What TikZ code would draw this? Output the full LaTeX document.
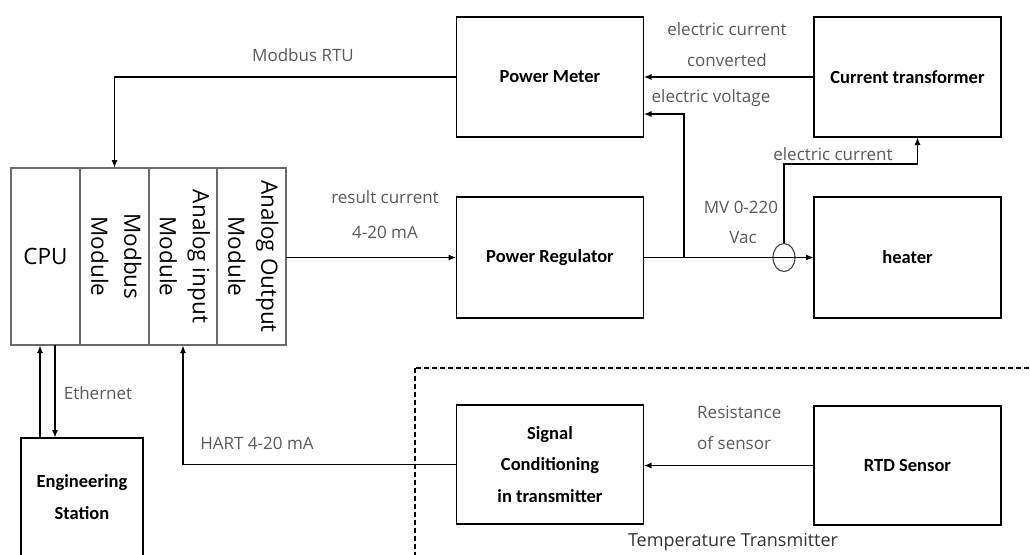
\documentclass[tikz,border=0pt]{standalone}
\usepackage{fontspec}
\setmainfont{Open Sans}
\newfontfamily\boxfont{Carlito}
\usetikzlibrary{arrows.meta,shapes.geometric,calc}
\definecolor{lbl}{HTML}{5A5A5A}
\definecolor{rackc}{HTML}{6A6A6A}
\tikzset{
  blk/.style={draw, line width=1.8pt, minimum width=187pt, minimum height=120pt, inner sep=0pt, outer sep=0pt, align=center, font=\boxfont\bfseries\fontsize{18.5}{31.5}\selectfont},
  col/.style={draw=rackc, line width=1.3pt, minimum height=177pt, inner sep=0pt, outer sep=0pt, font=\fontsize{22.5}{33}\selectfont},
  lab/.style={text=lbl, font=\fontsize{17}{20}\selectfont, inner sep=0pt},
  arr/.style={line width=1.8pt, -{Latex[length=8pt,width=6pt]}},
  frame/.style={line width=1.3pt, dash pattern=on 5pt off 3pt}
}
\begin{document}
\begin{tikzpicture}[x=1pt,y=-1pt]
\useasboundingbox (0,0) rectangle (1030,554);
\clip (0,0) rectangle (1030,554);
\fill[white] (0,0) rectangle (1030,554);

% rack
\node[col, minimum width=69pt] (cpu) at (45.5,256.5) {CPU};
\node[col, minimum width=69pt] (modbus) at (114.5,256.5) {\rotatebox{-90}{\begin{tabular}{@{}c@{}}Modbus\\Module\end{tabular}}};
\node[col, minimum width=68pt] (ai) at (183,256.5) {\rotatebox{-90}{\begin{tabular}{@{}c@{}}Analog input\\Module\end{tabular}}};
\node[col, minimum width=69pt] (ao) at (251.5,256.5) {\rotatebox{-90}{\begin{tabular}{@{}c@{}}Analog Output\\Module\end{tabular}}};

% blocks
\node[blk] (pm) at (550,77) {Power Meter};
\node[blk] (ct) at (907.5,77) {Current transformer};
\node[blk, minimum height=121pt] (pr) at (550,257.5) {Power Regulator};
\node[blk, minimum height=121pt] (heater) at (907.5,257.5) {heater};
\node[blk, minimum height=119pt] (sc) at (550,464.5) {Signal\\Conditioning\\in transmitter};
\node[blk, minimum height=119pt] (rtd) at (907.5,465.5) {RTD Sensor};
\node[blk, minimum width=122pt, minimum height=118pt] (es) at (82,497) {Engineering\\Station};

% current transformer coil
\node[draw=black!75, ellipse, line width=1.1pt, minimum width=22pt, minimum height=28pt, inner sep=0pt] (coil) at (784,257.5) {};

% dashed transmitter frame
\draw[frame] (415,368) rectangle (1040,570);

% connectors
\draw[arr] (pm.west) -| (modbus.north);
\draw[arr] (ct.west) -- (pm.east);
\draw[arr] (ao.east |- pr.west) -- (pr.west);
\draw[arr] (pr.east) -- (heater.west);
\coordinate (j) at ($(pr.east)+(40.5,0)$);
\draw[arr] (j) |- ([yshift=-37pt]pm.east);
\draw[arr] (coil.north) |- ([xshift=10pt,yshift=-27pt]ct.south) -- ([xshift=10pt]ct.south);
\coordinate (e1) at ($(es.north)+(-42,0)$);
\coordinate (e2) at ($(es.north)+(-27,0)$);
\draw[arr] (e1) -- (e1 |- cpu.south);
\draw[arr] (e2 |- cpu.south) -- (e2);
\draw[arr] (sc.west) -| (ai.south);
\draw[arr] (rtd.west) -- (rtd.west -| sc.east);

% labels
\node[lab] (lmod) at (303,55) {Modbus RTU};
\node[lab] (lec1) at (727,29) {electric current};
\node[lab] (lconv) at (727,60) {converted};
\node[lab] (lvolt) at (711,98) {electric voltage};
\node[lab] (lec2) at (833,154) {electric current};
\node[lab] (lmv) at (741,207) {MV 0-220};
\node[lab] (lvac) at (743,238) {Vac};
\node[lab] (lres1) at (385,197) {result current};
\node[lab] (lres2) at (385,232) {4-20 mA};
\node[lab] (leth) at (98,393) {Ethernet};
\node[lab] (lhart) at (257,443) {HART 4-20 mA};
\node[lab, anchor=west] (lr1) at (697,412) {Resistance};
\node[lab, anchor=west] (lr2) at (697,443) {of sensor};
\node[lab, text=black!80, font=\fontsize{18}{20}\selectfont] (ltt) at (733,542) {Temperature Transmitter};
\end{tikzpicture}
\end{document}
